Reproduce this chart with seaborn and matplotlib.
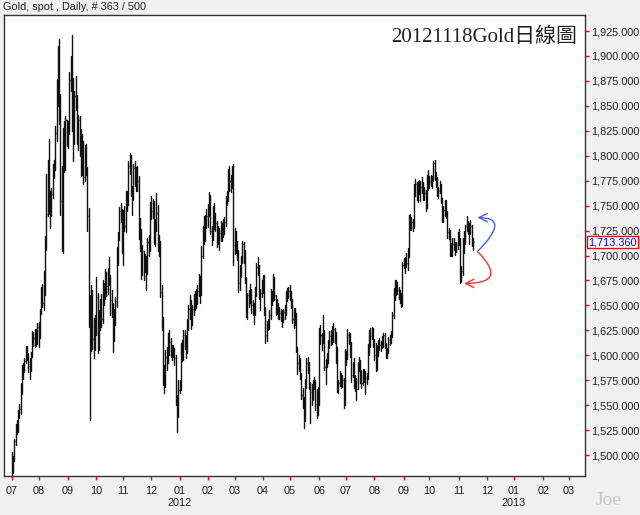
import numpy as np
import pandas as pd
import matplotlib
matplotlib.use('Agg')
import matplotlib.pyplot as plt
import matplotlib.transforms as mtransforms
import seaborn as sns

# daily gold spot bars, 2011-07-01 .. 2012-11-16 (one value per trading day, by month)
high = [
    1503, 1499, 1516, 1531, 1535, 1545, 1551, 1572, 1590, 1592, 1597, 1609, 1609, 1602, 1597, 1603, 1624, 1623, 1626, 1626, 1632,
    1633, 1646, 1668, 1671, 1684, 1720, 1782, 1796, 1817, 1765, 1768, 1792, 1796, 1830, 1877, 1910, 1917, 1862, 1790, 1828, 1835, 1840, 1836,
    1835, 1884, 1900, 1921, 1878, 1865, 1880, 1861, 1841, 1840, 1827, 1822, 1815, 1811, 1812, 1789, 1748, 1660, 1670, 1665, 1637, 1640,
    1678, 1662, 1645, 1656, 1661, 1675, 1672, 1686, 1683, 1687, 1698, 1680, 1665, 1652, 1646, 1658, 1709, 1724, 1749, 1753, 1747,
    1746, 1750, 1765, 1765, 1795, 1803, 1801, 1770, 1792, 1795, 1789, 1790, 1780, 1738, 1727, 1711, 1705, 1702, 1700, 1718, 1721, 1754,
    1760, 1757, 1755, 1737, 1763, 1751, 1721, 1715, 1670, 1638, 1590, 1605, 1608, 1622, 1625, 1617, 1610, 1610, 1607, 1600, 1560, 1575,
    1575, 1612, 1615, 1625, 1625, 1620, 1636, 1650, 1660, 1655, 1650, 1661, 1664, 1666, 1670, 1681, 1679, 1710, 1730, 1740, 1741, 1747,
    1752, 1764, 1761, 1730, 1750, 1753, 1743, 1735, 1730, 1728, 1735, 1733, 1737, 1739, 1760, 1765, 1787, 1790, 1781, 1790, 1792,
    1728, 1725, 1715, 1706, 1690, 1700, 1715, 1714, 1706, 1678, 1662, 1665, 1671, 1666, 1655, 1652, 1668, 1692, 1698, 1690, 1666, 1675,
    1680, 1680, 1648, 1634, 1636, 1645, 1666, 1664, 1681, 1678, 1660, 1656, 1652, 1648, 1646, 1645, 1646, 1650, 1664, 1667, 1668,
    1670, 1664, 1656, 1647, 1647, 1642, 1608, 1600, 1597, 1582, 1567, 1558, 1576, 1597, 1598, 1593, 1573, 1571, 1575, 1578, 1575, 1566, 1568,
    1627, 1630, 1622, 1640, 1625, 1596, 1602, 1615, 1624, 1625, 1629, 1632, 1627, 1623, 1608, 1575, 1584, 1582, 1580, 1577, 1606,
    1604, 1626, 1623, 1622, 1613, 1593, 1597, 1580, 1577, 1593, 1598, 1595, 1585, 1586, 1586, 1584, 1582, 1611, 1625, 1627, 1628, 1627,
    1616, 1612, 1610, 1615, 1617, 1614, 1619, 1622, 1622, 1612, 1607, 1618, 1620, 1624, 1643, 1667, 1675, 1675, 1673, 1668, 1665, 1662, 1693,
    1697, 1698, 1703, 1708, 1741, 1742, 1739, 1737, 1772, 1777, 1774, 1775, 1776, 1775, 1779, 1774, 1769, 1766, 1781, 1786,
    1780, 1781, 1780, 1795, 1796, 1784, 1779, 1769, 1775, 1772, 1758, 1750, 1756, 1756, 1745, 1728, 1726, 1713, 1718, 1718, 1714, 1714, 1724,
    1727, 1718, 1689, 1718, 1725, 1731, 1740, 1735, 1733, 1736, 1731, 1718,
]
low = [
    1478, 1482, 1494, 1510, 1521, 1523, 1537, 1541, 1561, 1576, 1583, 1592, 1595, 1583, 1576, 1584, 1598, 1609, 1608, 1609, 1611,
    1608, 1617, 1641, 1648, 1645, 1660, 1706, 1740, 1742, 1728, 1740, 1758, 1778, 1786, 1815, 1850, 1832, 1741, 1705, 1703, 1784, 1786, 1810,
    1808, 1822, 1865, 1825, 1795, 1812, 1846, 1812, 1806, 1800, 1780, 1781, 1772, 1775, 1781, 1725, 1628, 1535, 1604, 1606, 1597, 1605,
    1620, 1602, 1605, 1625, 1628, 1632, 1650, 1656, 1659, 1661, 1670, 1640, 1638, 1603, 1614, 1630, 1648, 1690, 1716, 1734, 1703,
    1690, 1725, 1724, 1745, 1751, 1782, 1760, 1741, 1756, 1770, 1765, 1765, 1717, 1705, 1676, 1680, 1675, 1683, 1665, 1681, 1700, 1705,
    1737, 1738, 1712, 1710, 1725, 1705, 1700, 1658, 1625, 1570, 1562, 1568, 1585, 1592, 1600, 1598, 1595, 1598, 1590, 1550, 1523, 1538,
    1562, 1565, 1594, 1595, 1606, 1597, 1602, 1625, 1636, 1626, 1630, 1640, 1645, 1647, 1651, 1659, 1652, 1660, 1697, 1712, 1715, 1728,
    1729, 1740, 1722, 1711, 1716, 1727, 1725, 1709, 1712, 1706, 1715, 1715, 1719, 1722, 1730, 1751, 1755, 1765, 1764, 1768, 1690,
    1702, 1703, 1695, 1663, 1665, 1678, 1692, 1692, 1672, 1638, 1636, 1648, 1652, 1642, 1640, 1631, 1640, 1659, 1680, 1656, 1645, 1658,
    1662, 1640, 1612, 1614, 1625, 1626, 1636, 1650, 1654, 1655, 1640, 1641, 1636, 1636, 1634, 1628, 1633, 1636, 1640, 1654, 1657,
    1655, 1647, 1632, 1627, 1630, 1603, 1581, 1584, 1576, 1556, 1547, 1527, 1534, 1567, 1582, 1566, 1532, 1550, 1555, 1566, 1545, 1537, 1540,
    1550, 1611, 1605, 1612, 1585, 1571, 1588, 1592, 1607, 1610, 1611, 1613, 1612, 1592, 1563, 1562, 1569, 1567, 1568, 1547, 1550,
    1590, 1596, 1611, 1598, 1573, 1578, 1567, 1564, 1555, 1566, 1584, 1572, 1567, 1570, 1573, 1561, 1571, 1576, 1600, 1608, 1616, 1608,
    1595, 1584, 1585, 1599, 1605, 1604, 1607, 1608, 1607, 1597, 1597, 1602, 1610, 1612, 1618, 1637, 1655, 1660, 1661, 1656, 1652, 1648, 1649,
    1687, 1682, 1688, 1685, 1698, 1726, 1726, 1725, 1728, 1760, 1756, 1754, 1762, 1755, 1763, 1756, 1756, 1745, 1748, 1766,
    1768, 1770, 1768, 1775, 1776, 1769, 1760, 1758, 1763, 1753, 1734, 1734, 1740, 1738, 1718, 1717, 1700, 1700, 1700, 1706, 1701, 1704, 1707,
    1711, 1672, 1673, 1680, 1703, 1712, 1725, 1722, 1712, 1722, 1710, 1706,
]
close = [
    1486, 1497, 1514, 1529, 1530, 1542, 1546, 1564, 1586, 1588, 1594, 1604, 1601, 1589, 1586, 1601, 1614, 1617, 1614, 1616, 1628,
    1622, 1644, 1665, 1652, 1663, 1713, 1742, 1792, 1760, 1745, 1762, 1786, 1792, 1823, 1852, 1892, 1858, 1755, 1760, 1825, 1790, 1836, 1825,
    1828, 1876, 1897, 1872, 1817, 1860, 1856, 1815, 1836, 1825, 1786, 1814, 1779, 1807, 1785, 1740, 1657, 1628, 1651, 1616, 1620, 1624,
    1658, 1614, 1640, 1650, 1636, 1669, 1662, 1680, 1669, 1682, 1676, 1655, 1650, 1620, 1642, 1654, 1703, 1721, 1745, 1745, 1714,
    1732, 1730, 1760, 1755, 1790, 1795, 1766, 1758, 1788, 1781, 1783, 1775, 1725, 1725, 1695, 1705, 1690, 1697, 1684, 1714, 1712, 1745,
    1745, 1746, 1722, 1731, 1743, 1712, 1712, 1663, 1634, 1576, 1574, 1598, 1595, 1618, 1613, 1607, 1606, 1603, 1597, 1558, 1541, 1565,
    1570, 1601, 1612, 1620, 1617, 1607, 1632, 1646, 1651, 1638, 1646, 1652, 1660, 1655, 1664, 1677, 1665, 1700, 1725, 1738, 1731, 1740,
    1745, 1758, 1725, 1721, 1745, 1731, 1733, 1725, 1722, 1723, 1727, 1728, 1725, 1734, 1757, 1759, 1785, 1775, 1771, 1785, 1711,
    1722, 1711, 1704, 1672, 1684, 1698, 1712, 1702, 1674, 1643, 1660, 1658, 1663, 1650, 1648, 1643, 1663, 1688, 1686, 1660, 1662, 1668,
    1677, 1645, 1620, 1630, 1632, 1640, 1661, 1658, 1676, 1660, 1650, 1649, 1642, 1642, 1643, 1638, 1643, 1645, 1660, 1663, 1664,
    1662, 1654, 1636, 1643, 1639, 1606, 1592, 1595, 1580, 1560, 1557, 1538, 1573, 1592, 1590, 1570, 1563, 1558, 1571, 1573, 1551, 1563, 1560,
    1622, 1620, 1616, 1617, 1588, 1595, 1597, 1611, 1619, 1617, 1626, 1626, 1618, 1606, 1566, 1572, 1580, 1574, 1575, 1551, 1604,
    1598, 1620, 1617, 1608, 1580, 1589, 1571, 1574, 1566, 1590, 1593, 1583, 1572, 1580, 1583, 1577, 1579, 1605, 1614, 1619, 1621, 1614,
    1600, 1590, 1604, 1610, 1610, 1609, 1616, 1620, 1610, 1601, 1604, 1615, 1616, 1621, 1640, 1660, 1670, 1670, 1665, 1664, 1657, 1657, 1690,
    1692, 1694, 1692, 1703, 1740, 1731, 1734, 1733, 1769, 1772, 1763, 1771, 1769, 1769, 1773, 1764, 1763, 1751, 1779, 1772,
    1775, 1776, 1778, 1793, 1781, 1776, 1764, 1765, 1769, 1757, 1739, 1746, 1754, 1742, 1724, 1725, 1707, 1702, 1712, 1712, 1708, 1711, 1719,
    1716, 1676, 1684, 1716, 1715, 1730, 1732, 1729, 1724, 1730, 1713, 1713.36,
]
last_price = 1713.36
header = 'Gold, spot , Daily, # 363 / 500'
title = '20121118Gold日線圖'
price_ticks = list(range(1500, 1926, 25))

sns.set_theme(style='white')
plt.rcParams['font.family'] = ['Liberation Sans', 'DejaVu Sans']

idx = np.arange(len(close))
bars = pd.DataFrame({
    'idx': np.repeat(idx, 2),
    'price': np.column_stack([low, high]).ravel(),
})

# trading-day axis running on past the data to the end of Mar 2013
axis_days = pd.bdate_range('2011-07-01', '2013-03-29')
month_pos = [i for i in range(len(axis_days)) if i == 0 or axis_days[i].month != axis_days[i - 1].month]
month_lab = [axis_days[i].strftime('%m') for i in month_pos]

fig = plt.figure(figsize=(6.4, 5.15), dpi=100, facecolor='#f0f0f0')
ax = fig.add_axes([0.007, 0.0757, 0.907, 0.8951])
ax.set_facecolor('white')

sns.lineplot(data=bars, x='idx', y='price', units='idx', estimator=None, sort=False,
             color='#111111', lw=1.0, ax=ax)
ax.hlines(close, idx, idx + 0.8, color='#111111', lw=1.0)

ax.set_xlim(-5.6, 447.4)
ax.set_ylim(1479, 1941)
ax.set_xlabel('')
ax.set_ylabel('')

ax.yaxis.tick_right()
ax.set_yticks(price_ticks)
ax.set_yticklabels([f'{v:,.3f}' for v in price_ticks])
ax.tick_params(axis='y', direction='out', length=3, width=1, color='red', pad=1.5,
               labelsize=7.8, labelcolor='#202020', right=True, left=False)
ax.set_xticks(month_pos)
ax.set_xticklabels(month_lab)
ax.tick_params(axis='x', direction='out', length=3, width=1, color='red', pad=4,
               labelsize=7.8, labelcolor='#202020', bottom=True)
for s in ax.spines.values():
    s.set_color('#333333')
    s.set_linewidth(1)

# year labels under each January
for i, d in zip(month_pos, month_lab):
    if d == '01':
        ax.annotate(str(axis_days[i].year), xy=(i, 0), xycoords=('data', 'axes fraction'),
                    xytext=(0, -16), textcoords='offset points', ha='center', va='top',
                    fontsize=7.8, color='#202020')

# current price box on the price axis
trans = mtransforms.blended_transform_factory(ax.transAxes, ax.transData)
ax.text(1.006, last_price, f'{last_price:,.3f}', transform=trans, ha='left', va='center',
        fontsize=7.8, color='#0000ff',
        bbox=dict(boxstyle='square,pad=0.12', fc='white', ec='red', lw=1))

# hand-drawn arrows from the last bar
start = (idx[-1] + 3.5, 1704)
ax.annotate('', xy=(idx[-1] + 3.5, 1738), xytext=start,
            arrowprops=dict(arrowstyle='->,head_length=0.5,head_width=0.25', color='#4a5ee8', lw=1,
                            connectionstyle='angle3,angleA=45,angleB=0', shrinkA=0, shrinkB=0))
ax.annotate('', xy=(idx[-1] - 7, 1672), xytext=start,
            arrowprops=dict(arrowstyle='->,head_length=0.5,head_width=0.25', color='#ff3030', lw=1,
                            connectionstyle='angle3,angleA=-45,angleB=0', shrinkA=0, shrinkB=0))

ax.text(0.986, 0.952, title, transform=ax.transAxes, ha='right', va='center', fontsize=15,
        color='#202020', family=['Liberation Serif', 'Noto Sans CJK TC'])
fig.text(0.005, 0.986, header, ha='left', va='center', fontsize=7.8, color='#202020')
fig.text(0.93, 0.029, 'Joe', ha='left', va='center', fontsize=14, color='#c8c8c8',
         family='Liberation Serif')

fig.savefig('out.png', dpi=100, facecolor=fig.get_facecolor())
